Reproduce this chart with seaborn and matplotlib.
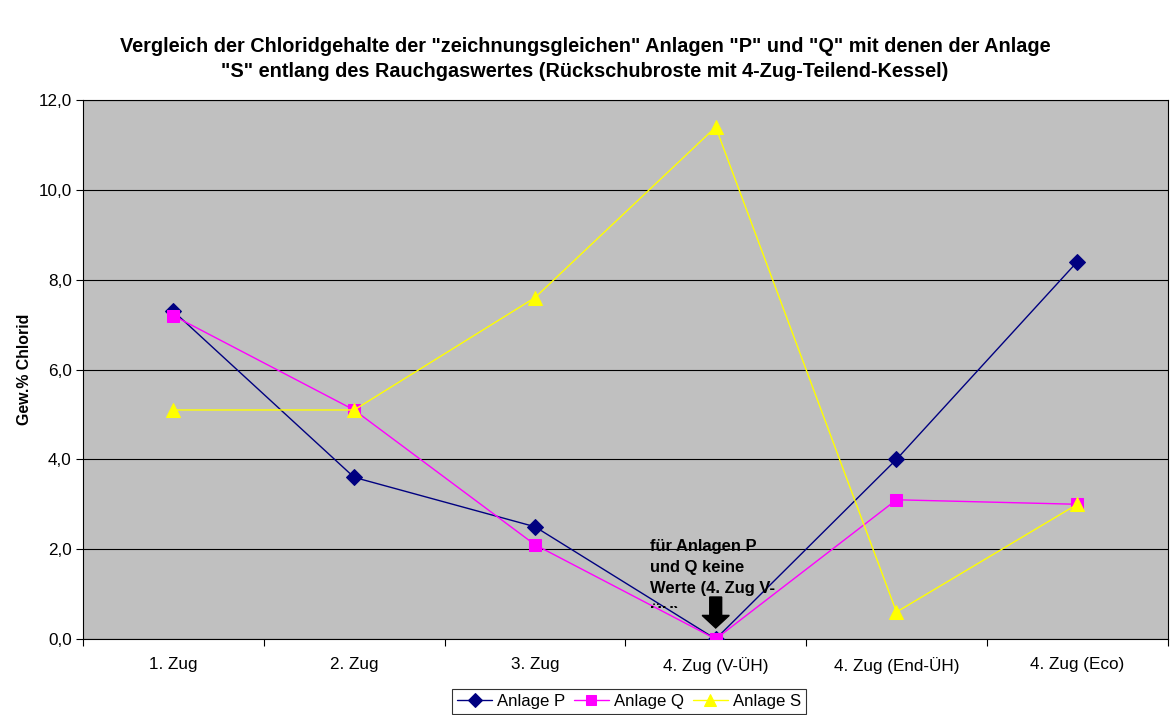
import matplotlib
matplotlib.use("Agg")
import matplotlib.pyplot as plt
import matplotlib.patches as mpatches
from matplotlib.transforms import Bbox, TransformedBbox
import seaborn as sns
import pandas as pd
import numpy as np

categories = ["1. Zug", "2. Zug", "3. Zug", "4. Zug (V-ÜH)", "4. Zug (End-ÜH)", "4. Zug (Eco)"]
anlage_p = [7.3, 3.6, 2.5, 0.0, 4.0, 8.4]
anlage_q = [7.2, 5.1, 2.1, 0.0, 3.1, 3.0]
anlage_s = [5.1, 5.1, 7.6, 11.4, 0.6, 3.0]
y_ticks = [0, 2, 4, 6, 8, 10, 12]

series = [
    ("Anlage P", anlage_p, "#000080", "D", 8),
    ("Anlage Q", anlage_q, "#FF00FF", "s", 9),
    ("Anlage S", anlage_s, "#FFFF00", "^", 10),
]

sns.set_theme(style="white")
plt.rcParams["font.family"] = ["Liberation Sans", "DejaVu Sans"]
plt.rcParams.update({
    "text.color": "black",
    "axes.labelcolor": "black",
    "xtick.color": "black",
    "ytick.color": "black",
})

fig = plt.figure(figsize=(11.7, 7.15), dpi=100)
ax = fig.add_axes([0.0709, 0.1063, 0.9271, 0.7537])
ax.set_facecolor("#C0C0C0")

pos = np.arange(len(categories))
for i, (name, vals, color, marker, ms) in enumerate(series):
    df = pd.DataFrame({"x": pos, "y": vals})
    sns.lineplot(data=df, x="x", y="y", ax=ax, color=color, marker=marker,
                 markersize=ms, markeredgecolor=color, linewidth=1.0,
                 label=name, zorder=3 + i, legend=False)

ax.set_xlim(-0.5, len(categories) - 0.5)
ax.set_ylim(0, 12)

# category labels centred, tick marks on the boundaries
ax.set_xticks(pos)
ax.set_xticklabels(categories, fontsize=12.3)
ax.tick_params(axis="x", which="major", length=0, pad=13)
ax.set_xticks(np.arange(len(categories) + 1) - 0.5, minor=True)
ax.tick_params(axis="x", which="minor", length=5, width=0.8, color="black",
               direction="out", bottom=True)

ax.set_yticks(y_ticks)
ax.set_yticklabels([f"{v:.1f}".replace(".", ",") for v in y_ticks], fontsize=12.3)
ax.tick_params(axis="y", length=5, width=0.8, color="black", direction="out",
               left=True, pad=3)

ax.yaxis.grid(True, color="black", linewidth=0.8)
ax.set_axisbelow(True)
for sp in ax.spines.values():
    sp.set_color("black")
    sp.set_linewidth(0.8)

ax.set_xlabel("")
ax.set_ylabel("Gew.% Chlorid", fontsize=11.4, fontweight="bold", labelpad=5)

fig.suptitle('Vergleich der Chloridgehalte der "zeichnungsgleichen" Anlagen "P" und "Q" mit denen der Anlage\n'
             '"S" entlang des Rauchgaswertes (Rückschubroste mit 4-Zug-Teilend-Kessel)',
             fontsize=14.3, fontweight="bold", y=0.948, linespacing=1.4)

# note about missing values, cut off at the bottom of its box
note = ax.text(2.638, 2.23, "für Anlagen P\nund Q keine\nWerte (4. Zug V-\nÜH)",
               fontsize=11.9, fontweight="bold", va="top", ha="left",
               linespacing=1.5, zorder=8)
note.set_clip_box(TransformedBbox(Bbox([[2.6, 0.70], [3.6, 2.8]]), ax.transData))
note.set_clip_on(True)

arrow = mpatches.FancyArrow(3.0, 0.935, 0, -0.69, width=0.066, head_width=0.15,
                            head_length=0.28, length_includes_head=True,
                            color="black", zorder=9)
ax.add_patch(arrow)

handles, labels = ax.get_legend_handles_labels()
leg = fig.legend(handles, labels, loc="upper center", bbox_to_anchor=(0.5376, 0.036),
                 ncol=3, fontsize=12.1, frameon=True, fancybox=False,
                 handlelength=2.1, columnspacing=0.5, handletextpad=0.3,
                 borderpad=0.3, borderaxespad=0, markerscale=0.85)
leg.get_frame().set_edgecolor("black")
leg.get_frame().set_linewidth(0.8)

fig.savefig("out.png", dpi=100, facecolor="white")
